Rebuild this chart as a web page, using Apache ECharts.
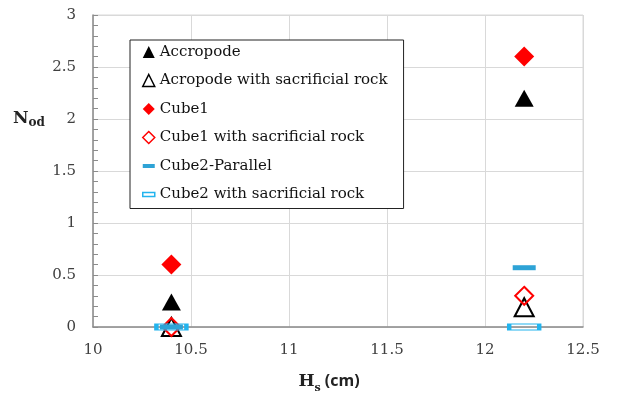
<!DOCTYPE html>
<html>
<head>
<meta charset="utf-8">
<script src="https://cdn.jsdelivr.net/npm/echarts@6/dist/echarts.min.js"></script>
<style>
  html, body { margin: 0; padding: 0; background: #fff; }
  #chart { width: 621px; height: 401px; }
</style>
</head>
<body>
<div id="chart"></div>
<script>
// Hs (cm) on x, Nod on y
const hsValues = [10.4, 12.2];
const accropode = [0.24, 2.2];
const accropodeSac = [0, 0.19];
const cube1 = [0.6, 2.6];
const cube1Sac = [0, 0.3];
const cube2Par = [0, 0.57];
const cube2Sac = [0, 0];

const seriesNames = [
  'Accropode',
  'Acropode with sacrificial rock',
  'Cube1',
  'Cube1 with sacrificial rock',
  'Cube2-Parallel',
  'Cube2 with sacrificial rock',
];

const FONT = 'DejaVu Serif';
const RED = '#ff0000';
const BLUE = '#2ea3d6';
const BLUE_LIGHT = '#22b4ee';
const NONE = 'rgba(255,255,255,0)';
const DASH = 'path://M0,0h12v4h-12z';

function pts(vals) {
  return hsValues.map((x, i) => [x, vals[i]]);
}

function hollow(color) {
  return { color: NONE, borderColor: color, borderWidth: 1.5, opacity: 1 };
}

const chart = echarts.init(document.getElementById('chart'));

chart.setOption({
  animation: false,
  grid: { left: 93, right: 38, top: 15, bottom: 74, show: true, borderColor: '#d9d9d9', borderWidth: 1 },
  legend: {
    orient: 'vertical',
    left: 130, top: 40,
    padding: [4, 16, 6, 12],
    itemWidth: 12, itemHeight: 12,
    itemGap: 12.5,
    itemStyle: { opacity: 1 },
    backgroundColor: '#fff',
    borderColor: '#222', borderWidth: 1,
    textStyle: { fontFamily: FONT, fontSize: 15, color: '#111', lineHeight: 16 },
    data: [
      { name: seriesNames[0], icon: 'triangle' },
      { name: seriesNames[1], icon: 'triangle', itemStyle: hollow('#000') },
      { name: seriesNames[2], icon: 'diamond' },
      { name: seriesNames[3], icon: 'diamond', itemStyle: hollow(RED) },
      { name: seriesNames[4], icon: DASH },
      { name: seriesNames[5], icon: DASH, itemStyle: hollow(BLUE_LIGHT) },
    ],
  },
  xAxis: {
    type: 'value', min: 10, max: 12.5, interval: 0.5,
    name: '{n|H}{s|s}{c| (cm)}',
    nameLocation: 'middle', nameGap: 46,
    nameTextStyle: {
      padding: [0, 18, 0, 0],
      rich: {
        n: { fontFamily: FONT, fontSize: 17, fontWeight: 'bold', color: '#222', verticalAlign: 'middle' },
        c: { fontFamily: 'Open Sans', fontSize: 16, fontWeight: 'bold', color: '#222', verticalAlign: 'middle' },
        s: { fontFamily: FONT, fontSize: 11, fontWeight: 'bold', color: '#222', verticalAlign: 'bottom', padding: [0, 0, -4, 0] },
      },
    },
    axisLine: { lineStyle: { color: '#8c8c8c', width: 1.5 } },
    axisTick: { show: false },
    axisLabel: { fontFamily: FONT, fontSize: 15, color: '#404040', margin: 16 },
    splitLine: { show: true, lineStyle: { color: '#d9d9d9' } },
  },
  yAxis: {
    type: 'value', min: 0, max: 3, interval: 0.5,
    name: '{n|N}{s|od}',
    nameLocation: 'middle', nameRotate: 0, nameGap: 48,
    nameTextStyle: {
      align: 'right',
      padding: [0, 0, 104, 0],
      rich: {
        n: { fontFamily: FONT, fontSize: 17, fontWeight: 'bold', color: '#222' },
        s: { fontFamily: FONT, fontSize: 12, fontWeight: 'bold', color: '#222', padding: [8, 0, 0, 0] },
      },
    },
    axisLine: { show: true, lineStyle: { color: '#8c8c8c', width: 1.5 } },
    axisTick: { show: true, inside: true, length: 5, lineStyle: { color: '#8c8c8c' } },
    minorTick: { show: true, splitNumber: 5, length: 5, lineStyle: { color: '#8c8c8c' } },
    axisLabel: { fontFamily: FONT, fontSize: 15, color: '#404040', margin: 17 },
    splitLine: { show: true, lineStyle: { color: '#d9d9d9' } },
  },
  series: [
    {
      name: seriesNames[0], type: 'scatter', clip: false,
      symbol: 'triangle', symbolSize: [19, 17],
      itemStyle: { color: '#000', opacity: 1 },
      data: pts(accropode),
    },
    {
      name: seriesNames[1], type: 'scatter', clip: false,
      symbol: 'triangle', symbolSize: [19, 18],
      itemStyle: { color: NONE, borderColor: '#000', borderWidth: 2, opacity: 1 },
      data: pts(accropodeSac),
    },
    {
      name: seriesNames[2], type: 'scatter', clip: false,
      symbol: 'diamond', symbolSize: [20, 20],
      itemStyle: { color: RED, opacity: 1 },
      data: pts(cube1),
    },
    {
      name: seriesNames[3], type: 'scatter', clip: false,
      symbol: 'diamond', symbolSize: [18, 18],
      itemStyle: { color: NONE, borderColor: RED, borderWidth: 2, opacity: 1 },
      data: pts(cube1Sac),
    },
    {
      name: seriesNames[4], type: 'scatter', clip: false,
      symbol: 'rect', symbolSize: [23, 5],
      itemStyle: { color: BLUE, opacity: 1 },
      data: pts(cube2Par),
    },
    {
      name: seriesNames[5], type: 'scatter', clip: false,
      symbol: 'rect', symbolSize: [30, 6],
      itemStyle: { color: NONE, borderColor: BLUE_LIGHT, borderWidth: 2, opacity: 1 },
      data: pts(cube2Sac),
    },
  ],
});
</script>
</body>
</html>
